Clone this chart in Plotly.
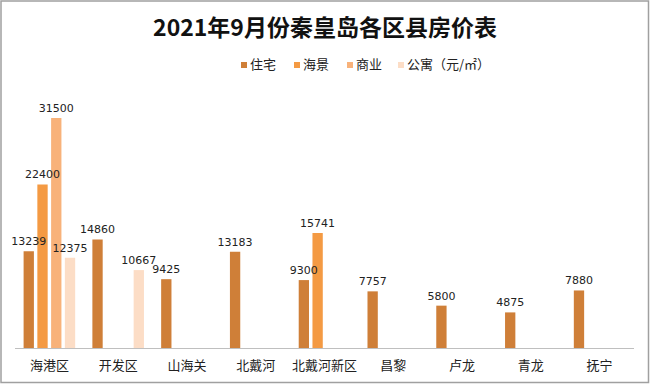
import plotly.graph_objects as go

categories = ["海港区", "开发区", "山海关", "北戴河", "北戴河新区", "昌黎", "卢龙", "青龙", "抚宁"]
residential = [13239, 14860, 9425, 13183, 9300, 7757, 5800, 4875, 7880]
seaview = [22400, None, None, None, 15741, None, None, None, None]
commercial = [31500, None, None, None, None, None, None, None, None]
apartment = [12375, 10667, None, None, None, None, None, None, None]

series_names = ["住宅", "海景", "商业", "公寓（元/㎡）"]
series_values = [residential, seaview, commercial, apartment]
series_colors = ["#CF7F38", "#F49A43", "#F8B27A", "#FCDDC6"]

W, H = 650, 385
ml, mr, mt, mb = 15, 16, 80, 37
pw = W - ml - mr
ph = H - mt - mb


def px_x(px):
    return (px - ml) / pw


def px_y(py):
    return 1 - (py - mt) / ph


fig = go.Figure()
# bars
for i, (name, vals, color) in enumerate(zip(series_names, series_values, series_colors)):
    fig.add_trace(go.Bar(
        x=categories, y=vals, name=name, showlegend=False, offsetgroup=str(i),
        marker=dict(color=color, line=dict(width=0)),
    ))
# value labels drawn on top of all bars
for i, (name, vals) in enumerate(zip(series_names, series_values)):
    fig.add_trace(go.Bar(
        x=categories, y=vals, name=name, showlegend=False, offsetgroup=str(i),
        marker=dict(color="rgba(0,0,0,0)", line=dict(width=0)),
        text=[("" if v is None else str(v)) for v in vals],
        textposition="outside", cliponaxis=False, constraintext="none",
        textfont=dict(size=11, color="#222222", family="DejaVu Sans"),
        hoverinfo="skip",
    ))

fig.update_layout(
    width=W, height=H,
    margin=dict(l=ml, r=mr, t=mt, b=mb, autoexpand=False),
    paper_bgcolor="white", plot_bgcolor="white",
    barmode="group", bargap=0.2, bargroupgap=0.25,
    title=dict(text="<b>2021年9月份秦皇岛各区县房价表</b>", x=0.5, xanchor="center",
               y=1 - 28 / H, yanchor="middle", automargin=False,
               font=dict(size=23, color="#111111", family="Noto Sans CJK SC")),
    showlegend=False,
    font=dict(family="Noto Sans CJK SC"),
)
fig.update_xaxes(showline=True, linecolor="#BFBFBF", linewidth=1, ticks="",
                 tickfont=dict(size=13, color="#222222", family="Noto Sans CJK SC"),
                 ticklabelstandoff=5,
                 showgrid=False, automargin=False)
fig.update_yaxes(range=[0, 36700], visible=False, showgrid=False)

# manual legend (small square markers + labels)
legend_marker_x = [241, 294, 347, 398]
for name, color, mx in zip(series_names, series_colors, legend_marker_x):
    fig.add_shape(type="rect", xref="paper", yref="paper",
                  x0=px_x(mx), x1=px_x(mx + 6), y0=px_y(68), y1=px_y(62),
                  line=dict(width=0), fillcolor=color)
    fig.add_annotation(text=name, xref="paper", yref="paper", x=px_x(mx + 7), y=px_y(63),
                       xanchor="left", yanchor="middle", showarrow=False,
                       font=dict(size=13, color="#222222", family="Noto Sans CJK SC"))

# outer border
fig.add_shape(type="rect", xref="paper", yref="paper",
              x0=px_x(1), x1=px_x(W - 1.5),
              y0=px_y(H - 2.5), y1=px_y(1),
              line=dict(color="#A0A0A0", width=1.5), fillcolor="rgba(0,0,0,0)")

fig.write_html(
    "out.html",
    config={"displayModeBar": False},
    post_script="document.body.style.margin='0';document.body.style.padding='0';"
                "document.body.style.overflow='hidden';",
)
